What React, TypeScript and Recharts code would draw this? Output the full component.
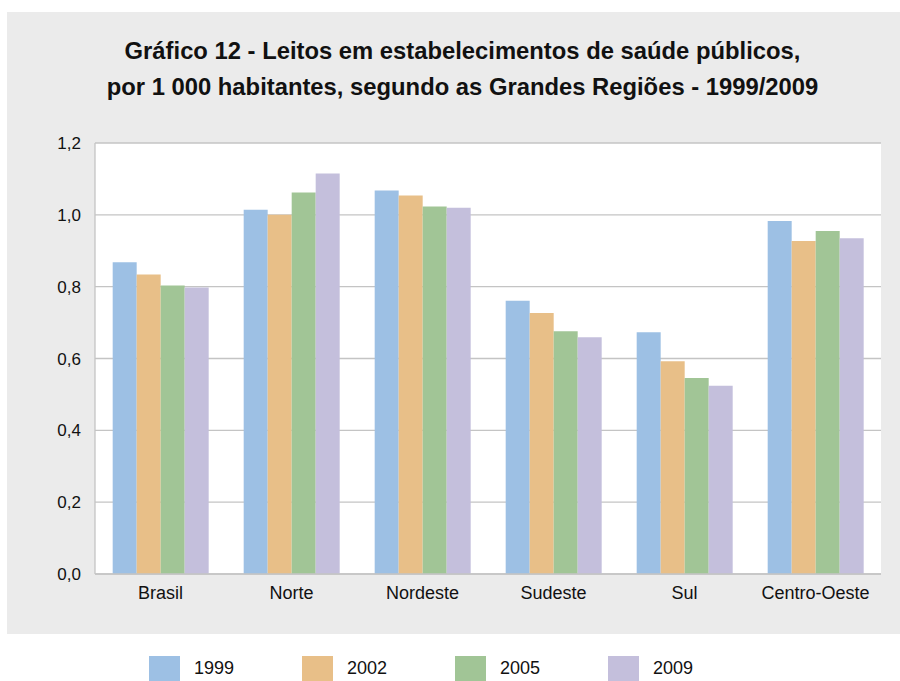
import React from 'react'
import {BarChart, Bar, XAxis, YAxis, CartesianGrid} from 'recharts'

const regions = ['Brasil', 'Norte', 'Nordeste', 'Sudeste', 'Sul', 'Centro-Oeste']
const v1999 = [0.868, 1.014, 1.068, 0.761, 0.673, 0.983]
const v2002 = [0.834, 1.0, 1.054, 0.727, 0.592, 0.927]
const v2005 = [0.803, 1.062, 1.023, 0.676, 0.546, 0.955]
const v2009 = [0.798, 1.115, 1.02, 0.659, 0.524, 0.935]
const yTicks = [0, 0.2, 0.4, 0.6, 0.8, 1.0, 1.2]

const SERIES = [
  {key: 'y1999', name: '1999', color: '#9DC0E4', values: v1999},
  {key: 'y2002', name: '2002', color: '#E8BF88', values: v2002},
  {key: 'y2005', name: '2005', color: '#A1C596', values: v2005},
  {key: 'y2009', name: '2009', color: '#C4BFDC', values: v2009},
]

const data = regions.map((region, i) => {
  const row: any = {region}
  SERIES.forEach(s => (row[s.key] = s.values[i]))
  return row
})

const FONT = "'Liberation Sans', Arial, Helvetica, sans-serif"
const GRID = '#c4c4c4'

export default function App() {
  return (
    <div
      style={{
        position: 'absolute',
        left: 7,
        top: 12,
        width: 893,
        height: 669,
        overflow: 'hidden',
        fontFamily: FONT,
      }}
    >
      <style>{'html,body{overflow:hidden}'}</style>
      {/* fundo cinza */}
      <div style={{position: 'relative', width: 893, height: 622, background: '#ebebeb'}}>
        <div
          style={{
            position: 'absolute',
            top: 21,
            left: 0,
            width: 911,
            textAlign: 'center',
            fontFamily: "'Liberation Sans Narrow', 'Liberation Sans', Arial, sans-serif",
            fontWeight: 'bold',
            fontSize: 23.8,
            lineHeight: '36px',
            color: '#111',
          }}
        >
          Gráfico 12 - Leitos em estabelecimentos de saúde públicos,
          <br />
          por 1 000 habitantes, segundo as Grandes Regiões - 1999/2009
        </div>
        <BarChart
          width={893}
          height={622}
          data={data}
          margin={{top: 131, right: 19, left: 28, bottom: 30}}
          barCategoryGap="13.5%"
          barGap={0}
          style={{position: 'absolute', top: 0, left: 0}}
        >
          <CartesianGrid vertical={false} stroke={GRID} strokeWidth={1.3} fill="#ffffff" yAxisId="left" />
          <XAxis
            dataKey="region"
            height={30}
            tickSize={0}
            tickMargin={12}
            axisLine={{stroke: GRID, strokeWidth: 1.3}}
            tick={{fontSize: 18, fill: '#111', fontFamily: FONT}}
          />
          <YAxis
            yAxisId="left"
            width={60}
            domain={[0, 1.2]}
            ticks={yTicks}
            interval={0}
            tickSize={0}
            tickMargin={14}
            axisLine={{stroke: GRID, strokeWidth: 1.3}}
            tickFormatter={(v: number) => v.toFixed(1).replace('.', ',')}
            tick={{fontSize: 17, fill: '#111', fontFamily: FONT}}
          />
          <YAxis
            yAxisId="right"
            orientation="right"
            width={0}
            domain={[0, 1.2]}
            tick={false}
            tickLine={false}
            axisLine={{stroke: GRID, strokeWidth: 1.3}}
          />
          {SERIES.map(s => (
            <Bar key={s.key} yAxisId="left" dataKey={s.key} name={s.name} fill={s.color} isAnimationActive={false} />
          ))}
        </BarChart>
      </div>
      {/* legenda */}
      <div style={{display: 'flex', paddingLeft: 142, marginTop: 22}}>
        {SERIES.map(s => (
          <div key={s.key} style={{display: 'flex', alignItems: 'center', width: 153}}>
            <div style={{width: 31, height: 25, background: s.color, marginRight: 14}} />
            <span style={{fontSize: 18, color: '#111'}}>{s.name}</span>
          </div>
        ))}
      </div>
    </div>
  )
}
